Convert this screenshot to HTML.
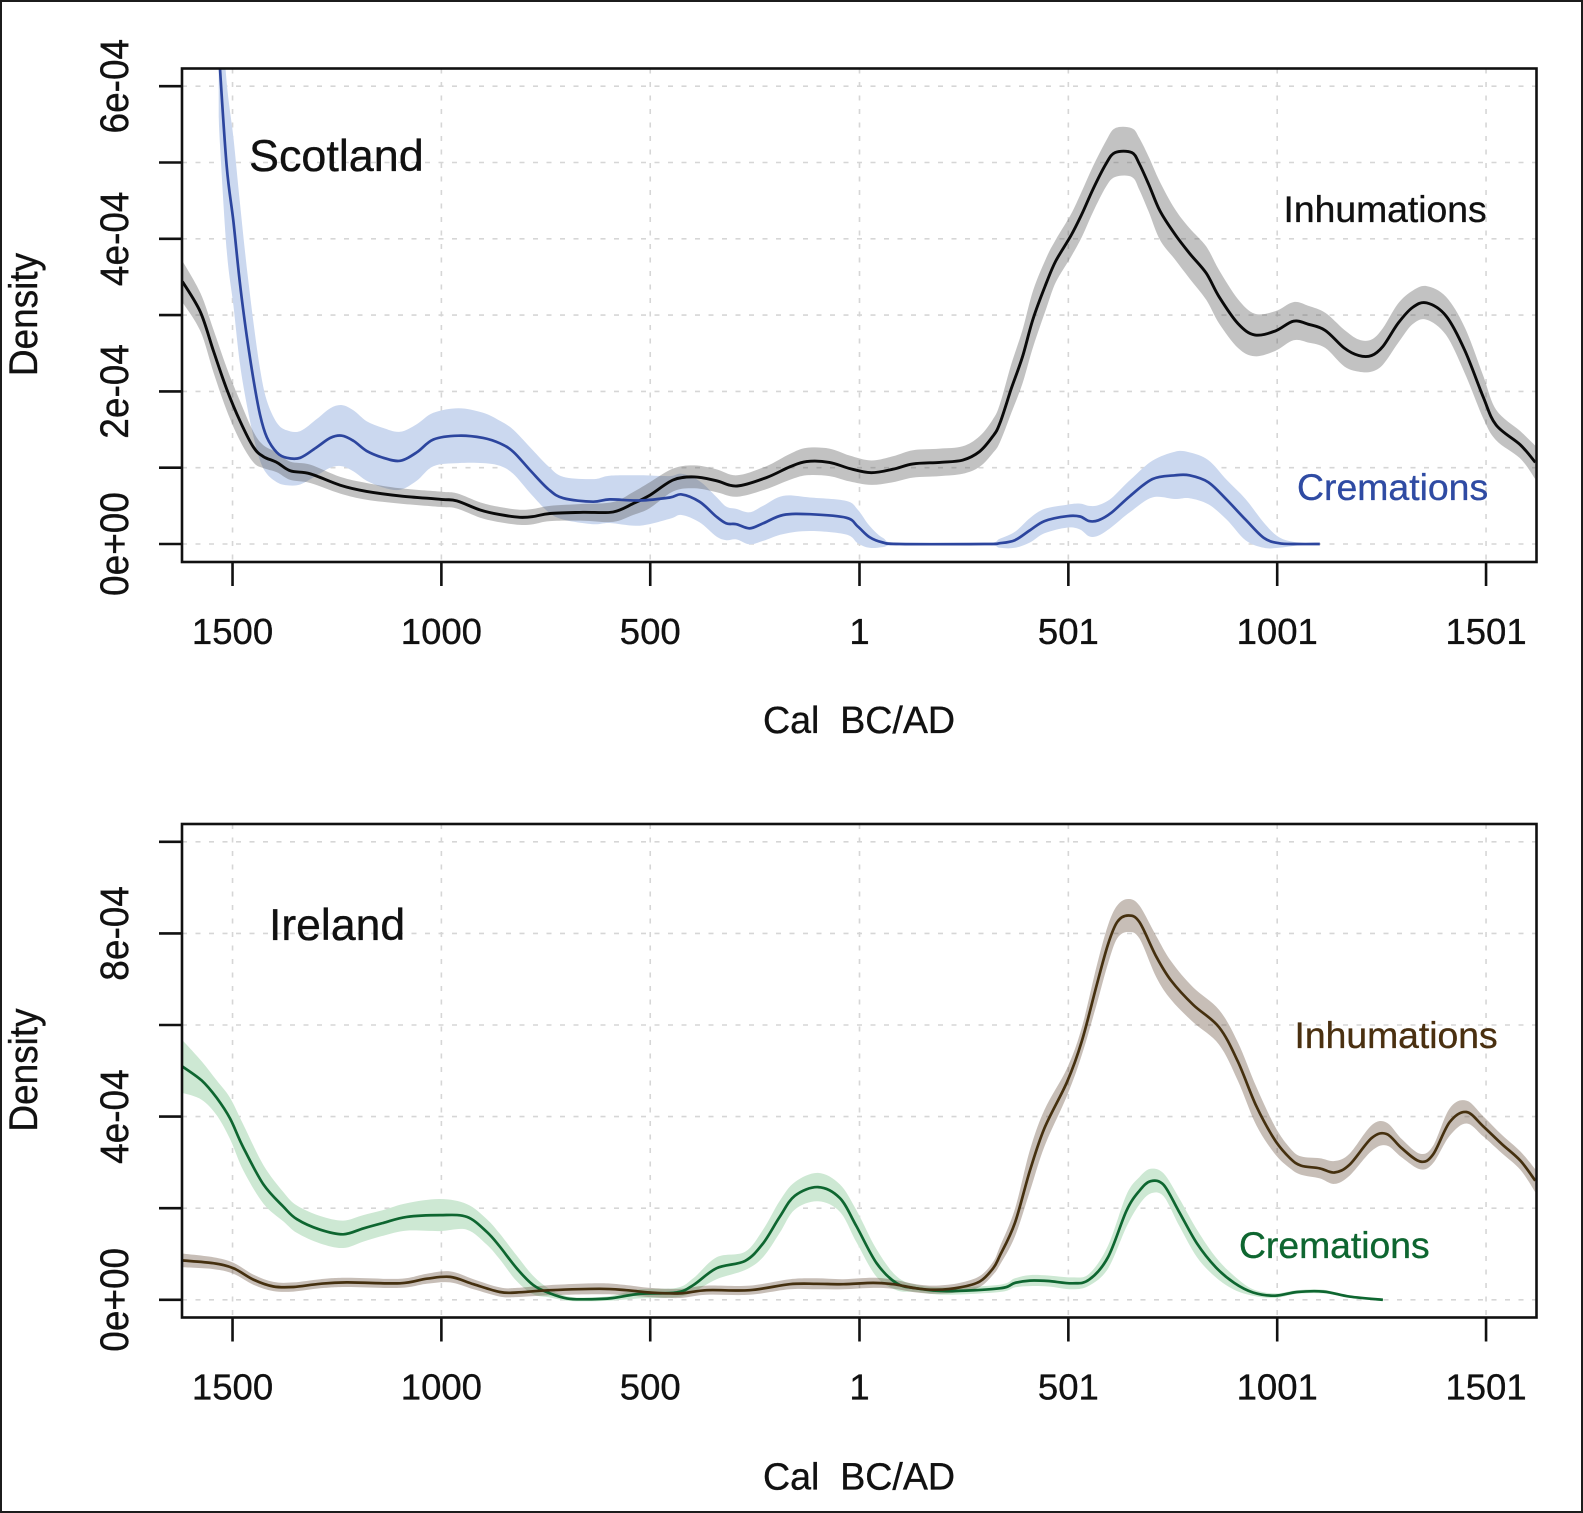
<!DOCTYPE html>
<html lang="en">
<head>
<meta charset="utf-8">
<title>Density of inhumations and cremations in Scotland and Ireland</title>
<style>
html,body{margin:0;padding:0;background:#fff;}
svg{display:block;}
text{font-family:"Liberation Sans",Arial,sans-serif;}
</style>
</head>
<body>
<svg id="chart" xmlns="http://www.w3.org/2000/svg" width="1583" height="1513" viewBox="0 0 1583 1513">
  <rect x="0" y="0" width="1583" height="1513" fill="#fff"/>
  <rect x="1" y="1" width="1581" height="1511" fill="none" stroke="#1c1c1c" stroke-width="2"/>
  <defs>
    <clipPath id="clip-scotland"><rect x="182" y="68.5" width="1354.5" height="493.5"/></clipPath>
    <clipPath id="clip-ireland"><rect x="182" y="824" width="1354.5" height="493.5"/></clipPath>
  </defs>
</svg>
<script>
// Shared x axis
const xTickValues = [-1500, -1000, -500, 1, 501, 1001, 1501];
const xTickLabels = ["1500", "1000", "500", "1", "501", "1001", "1501"];

// Scotland y axis (density, units of 1e-4)
const scotlandYTicks = [0, 1, 2, 3, 4, 5, 6];
const scotlandYLabelValues = [0, 2, 4, 6];
const scotlandYLabels = ["0e+00", "2e-04", "4e-04", "6e-04"];

// Ireland y axis (density, units of 1e-4)
const irelandYTicks = [0, 2, 4, 6, 8, 10];
const irelandYLabelValues = [0, 4, 8];
const irelandYLabels = ["0e+00", "4e-04", "8e-04"];

// Scotland inhumations
const scotInhYears = [-1620,-1577,-1545,-1514,-1482,-1450,-1426,-1394,-1362,-1314,-1242,-1179,-1099,-1000,-963,-907,-860,-812,-780,-740,-661,-589,-541,-501,-445,-394,-342,-292,-222,-166,-126,-71,-23,29,81,129,193,248,288,320,337,364,391,417,449,471,507,533,560,591,613,653,671,693,720,756,791,831,862,907,947,996,1040,1076,1116,1161,1196,1227,1254,1290,1325,1359,1405,1450,1494,1525,1583,1619];
const scotInhValues = [3.44,3.04,2.52,2.03,1.61,1.27,1.145,1.07,0.96,0.92,0.77,0.69,0.63,0.585,0.565,0.445,0.385,0.35,0.36,0.40,0.415,0.42,0.53,0.64,0.84,0.88,0.83,0.76,0.87,1.01,1.08,1.07,0.99,0.935,0.98,1.05,1.07,1.10,1.21,1.41,1.58,2.03,2.45,2.96,3.43,3.71,4.04,4.32,4.65,4.98,5.13,5.13,4.98,4.72,4.37,4.06,3.81,3.55,3.24,2.89,2.74,2.79,2.92,2.88,2.80,2.57,2.47,2.47,2.59,2.89,3.10,3.16,2.99,2.54,1.93,1.56,1.30,1.07];
const scotInhBand = [0.27,0.25,0.28,0.28,0.26,0.2,0.15,0.13,0.12,0.12,0.11,0.11,0.1,0.1,0.1,0.1,0.1,0.1,0.1,0.1,0.11,0.13,0.15,0.17,0.15,0.15,0.15,0.14,0.15,0.17,0.18,0.18,0.17,0.16,0.17,0.18,0.18,0.18,0.2,0.22,0.25,0.32,0.35,0.37,0.33,0.28,0.28,0.3,0.3,0.3,0.32,0.32,0.34,0.36,0.38,0.33,0.33,0.35,0.35,0.32,0.28,0.26,0.25,0.24,0.23,0.24,0.21,0.21,0.24,0.26,0.22,0.22,0.25,0.3,0.28,0.2,0.18,0.22];

// Scotland cremations
const scotCreYears = [-1533,-1530,-1514,-1498,-1482,-1466,-1450,-1434,-1418,-1394,-1370,-1338,-1298,-1266,-1238,-1210,-1179,-1139,-1099,-1059,-1019,-959,-900,-860,-828,-788,-744,-708,-637,-597,-525,-453,-425,-382,-342,-318,-294,-262,-230,-182,-118,-31,-3,25,57,97,300,337,373,409,444,498,529,551,573,604,649,702,756,791,836,880,925,969,1005,1049,1103];
const scotCreValues = [6.6,6.23,4.95,4.23,3.40,2.73,2.16,1.69,1.40,1.20,1.13,1.13,1.27,1.39,1.42,1.35,1.22,1.13,1.09,1.20,1.37,1.42,1.39,1.32,1.21,0.97,0.72,0.60,0.555,0.585,0.57,0.61,0.65,0.555,0.36,0.27,0.26,0.205,0.27,0.38,0.39,0.345,0.23,0.09,0.02,0,0,0.01,0.05,0.18,0.30,0.365,0.36,0.30,0.31,0.41,0.63,0.85,0.90,0.90,0.81,0.58,0.32,0.08,0.01,0,0];
const scotCreBand = [1.0,1.0,1.1,1.1,1.05,0.9,0.75,0.6,0.48,0.39,0.36,0.35,0.37,0.39,0.40,0.40,0.39,0.39,0.38,0.37,0.35,0.36,0.33,0.295,0.29,0.3,0.3,0.28,0.295,0.31,0.33,0.28,0.27,0.27,0.26,0.22,0.2,0.21,0.23,0.25,0.22,0.22,0.22,0.15,0.06,0.01,0.01,0.06,0.11,0.16,0.16,0.15,0.17,0.2,0.2,0.19,0.21,0.24,0.31,0.30,0.29,0.26,0.27,0.2,0.08,0.02,0];

// Ireland inhumations
const ireInhYears = [-1621,-1546,-1498,-1450,-1402,-1354,-1290,-1227,-1099,-1035,-979,-923,-860,-820,-740,-621,-557,-501,-429,-365,-262,-166,-102,-38,34,82,137,185,241,289,321,337,373,409,444,498,533,569,596,618,644,671,711,747,800,862,907,951,996,1032,1058,1103,1138,1174,1227,1263,1299,1343,1374,1414,1454,1494,1539,1583,1619];
const ireInhValues = [0.86,0.80,0.69,0.44,0.29,0.28,0.35,0.38,0.36,0.46,0.50,0.34,0.17,0.16,0.21,0.24,0.21,0.16,0.14,0.21,0.21,0.34,0.35,0.34,0.37,0.34,0.25,0.22,0.27,0.40,0.69,0.96,1.68,2.82,3.75,4.76,5.64,6.88,7.76,8.25,8.39,8.25,7.50,6.97,6.44,5.95,5.20,4.23,3.48,3.09,2.93,2.87,2.78,2.95,3.53,3.62,3.31,3.02,3.17,3.88,4.10,3.79,3.40,3.04,2.60];
const ireInhBand = [0.15,0.13,0.12,0.11,0.1,0.1,0.1,0.1,0.1,0.11,0.12,0.11,0.1,0.1,0.11,0.12,0.11,0.1,0.1,0.1,0.1,0.11,0.12,0.11,0.11,0.1,0.09,0.09,0.1,0.12,0.14,0.2,0.3,0.45,0.4,0.3,0.3,0.42,0.42,0.36,0.36,0.36,0.45,0.42,0.38,0.38,0.42,0.42,0.3,0.22,0.2,0.22,0.25,0.24,0.28,0.25,0.2,0.17,0.19,0.3,0.25,0.22,0.2,0.2,0.25];

// Ireland cremations
const ireCreYears = [-1621,-1574,-1538,-1506,-1474,-1426,-1378,-1346,-1290,-1235,-1187,-1139,-1083,-1003,-939,-891,-860,-820,-780,-740,-700,-660,-597,-525,-437,-397,-341,-273,-230,-190,-154,-98,-46,-6,42,90,137,209,337,373,409,453,511,551,596,640,671,698,729,765,809,854,898,943,996,1049,1112,1174,1254];
const ireCreValues = [5.10,4.79,4.41,3.96,3.32,2.52,2.03,1.76,1.53,1.43,1.56,1.68,1.81,1.85,1.81,1.48,1.16,0.69,0.32,0.14,0.03,0.01,0.03,0.13,0.16,0.32,0.69,0.85,1.23,1.81,2.27,2.46,2.22,1.60,0.80,0.36,0.25,0.19,0.25,0.37,0.42,0.41,0.36,0.44,0.93,1.94,2.38,2.59,2.51,1.94,1.23,0.71,0.37,0.16,0.09,0.17,0.18,0.07,0];
const ireCreBand = [0.58,0.42,0.38,0.45,0.5,0.42,0.32,0.3,0.3,0.3,0.29,0.28,0.3,0.35,0.28,0.28,0.28,0.28,0.2,0.09,0.05,0.04,0.05,0.1,0.1,0.15,0.24,0.2,0.3,0.35,0.3,0.31,0.3,0.35,0.3,0.15,0.08,0.08,0.08,0.1,0.12,0.12,0.13,0.13,0.25,0.35,0.3,0.27,0.25,0.3,0.3,0.22,0.15,0.07,0.05,0.04,0.04,0.02,0];

const svgNS = "http://www.w3.org/2000/svg";
const chart = document.getElementById("chart");

// Axis functions
function xScale(year) { return 859.5 + (year - 1) * 0.4177; }
function scotlandY(v) { return 544 - v * 76.3; }
function irelandY(v) { return 1299.8 - v * 45.8; }

function smoothPath(points, move) {
  let d = (move ? "M" : "L") + points[0][0].toFixed(1) + " " + points[0][1].toFixed(1);
  for (let i = 0; i < points.length - 1; i++) {
    const p0 = points[Math.max(i - 1, 0)];
    const p1 = points[i];
    const p2 = points[i + 1];
    const p3 = points[Math.min(i + 2, points.length - 1)];
    const c1x = p1[0] + (p2[0] - p0[0]) / 6;
    const c1y = p1[1] + (p2[1] - p0[1]) / 6;
    const c2x = p2[0] - (p3[0] - p1[0]) / 6;
    const c2y = p2[1] - (p3[1] - p1[1]) / 6;
    d += "C" + c1x.toFixed(1) + " " + c1y.toFixed(1) + " " + c2x.toFixed(1) + " " + c2y.toFixed(1) + " " + p2[0].toFixed(1) + " " + p2[1].toFixed(1);
  }
  return d;
}

function drawText(parent, str, x, y, size, fill, anchor, rotate) {
  const t = document.createElementNS(svgNS, "text");
  t.setAttribute("x", x);
  t.setAttribute("y", y);
  t.setAttribute("font-size", size);
  t.setAttribute("fill", fill);
  t.setAttribute("stroke", fill);
  t.setAttribute("stroke-width", 0.35);
  t.setAttribute("text-anchor", anchor);
  if (rotate) t.setAttribute("transform", "translate(" + x + " " + y + ") rotate(-90) scale(1 1.07) translate(" + (-x) + " " + (-y) + ")");
  t.textContent = str;
  parent.appendChild(t);
  return t;
}

function drawLine(parent, x1, y1, x2, y2, stroke, width, dash) {
  const l = document.createElementNS(svgNS, "line");
  l.setAttribute("x1", x1);
  l.setAttribute("y1", y1);
  l.setAttribute("x2", x2);
  l.setAttribute("y2", y2);
  l.setAttribute("stroke", stroke);
  l.setAttribute("stroke-width", width);
  if (dash) l.setAttribute("stroke-dasharray", dash);
  parent.appendChild(l);
  return l;
}

function drawBand(parent, years, values, band, yFn, fill) {
  const upper = years.map((yr, i) => [xScale(yr), yFn(values[i] + band[i])]);
  const lower = years.map((yr, i) => [xScale(yr), yFn(Math.max(values[i] - band[i], -0.05))]).reverse();
  const p = document.createElementNS(svgNS, "path");
  p.setAttribute("d", smoothPath(upper, true) + smoothPath(lower, false) + "Z");
  p.setAttribute("fill", fill);
  parent.appendChild(p);
  return p;
}

function drawCurve(parent, years, values, yFn, stroke, width) {
  const pts = years.map((yr, i) => [xScale(yr), yFn(values[i])]);
  const p = document.createElementNS(svgNS, "path");
  p.setAttribute("d", smoothPath(pts, true));
  p.setAttribute("fill", "none");
  p.setAttribute("stroke", stroke);
  p.setAttribute("stroke-width", width);
  p.setAttribute("stroke-linejoin", "round");
  parent.appendChild(p);
  return p;
}

function drawAxes(group, top, bottom, yFn, yTicks, yLabelValues, yLabels) {
  const left = 182, right = 1536.5;
  for (const v of yTicks) {
    const h = drawLine(group, left, yFn(v), right, yFn(v), "#d6d6d6", 1.6, "5 8.5");
    
    
    const t = drawLine(group, 159, yFn(v), left, yFn(v), "#111", 2.6);
    
    
  }
  xTickValues.forEach((yr, i) => {
    const g = drawLine(group, xScale(yr), top, xScale(yr), bottom, "#d6d6d6", 1.6, "5 8.5");
    
    
    const t = drawLine(group, xScale(yr), bottom, xScale(yr), bottom + 24, "#111", 2.6);
    
    
    const lab = drawText(group, xTickLabels[i], xScale(yr), bottom + 82, 36.5, "#111", "middle");
    
    
  });
  yLabelValues.forEach((v, i) => {
    const lab = drawText(group, yLabels[i], 128, yFn(v), 37, "#111", "middle", true);
    
    
  });
}

function drawBox(group, top, bottom) {
  const r = document.createElementNS(svgNS, "rect");
  r.setAttribute("x", 182);
  r.setAttribute("y", top);
  r.setAttribute("width", 1354.5);
  r.setAttribute("height", bottom - top);
  r.setAttribute("fill", "none");
  r.setAttribute("stroke", "#111");
  r.setAttribute("stroke-width", 2.6);
  
  
  group.appendChild(r);
}

function clipGroup(parent, id) {
  const g = document.createElementNS(svgNS, "g");
  g.setAttribute("clip-path", "url(#" + id + ")");
  
  
  parent.appendChild(g);
  return g;
}

// ---------- Scotland panel ----------
const scotlandPanel = document.createElementNS(svgNS, "g");


chart.appendChild(scotlandPanel);
drawAxes(scotlandPanel, 68.5, 562, scotlandY, scotlandYTicks, scotlandYLabelValues, scotlandYLabels);
const scotPlot = clipGroup(scotlandPanel, "clip-scotland");

const scotCreBandEl = drawBand(scotPlot, scotCreYears, scotCreValues, scotCreBand, scotlandY, "#cbd8ef");


const scotInhBandEl = drawBand(scotPlot, scotInhYears, scotInhValues, scotInhBand, scotlandY, "rgba(90,90,90,0.37)");


const scotInhLine = drawCurve(scotPlot, scotInhYears, scotInhValues, scotlandY, "#0a0a0a", 2.9);


const scotCreLine = drawCurve(scotPlot, scotCreYears, scotCreValues, scotlandY, "#2c459e", 2.7);


drawBox(scotlandPanel, 68.5, 562);

const scotTitle = drawText(scotlandPanel, "Scotland", 249, 171, 44.9, "#111", "start");


const scotInhLabel = drawText(scotlandPanel, "Inhumations", 1283.5, 222, 37.3, "#111", "start");


const scotCreLabel = drawText(scotlandPanel, "Cremations", 1297, 500, 37.4, "#2f4ba3", "start");


const scotXTitle = drawText(scotlandPanel, "Cal\u00a0\u00a0BC/AD", 859, 733, 37.6, "#111", "middle");


const scotYTitle = drawText(scotlandPanel, "Density", 37, 314.5, 37, "#111", "middle", true);



// ---------- Ireland panel ----------
const irelandPanel = document.createElementNS(svgNS, "g");


chart.appendChild(irelandPanel);
drawAxes(irelandPanel, 824, 1317.5, irelandY, irelandYTicks, irelandYLabelValues, irelandYLabels);
const irePlot = clipGroup(irelandPanel, "clip-ireland");

const ireCreBandEl = drawBand(irePlot, ireCreYears, ireCreValues, ireCreBand, irelandY, "#cde8d3");


const ireInhBandEl = drawBand(irePlot, ireInhYears, ireInhValues, ireInhBand, irelandY, "rgba(100,75,55,0.36)");


const ireCreLine = drawCurve(irePlot, ireCreYears, ireCreValues, irelandY, "#0e6630", 2.7);


const ireInhLine = drawCurve(irePlot, ireInhYears, ireInhValues, irelandY, "#45300f", 2.7);


drawBox(irelandPanel, 824, 1317.5);

const ireTitle = drawText(irelandPanel, "Ireland", 269, 940, 44.5, "#111", "start");


const ireInhLabel = drawText(irelandPanel, "Inhumations", 1294.5, 1048, 37.3, "#4a3010", "start");


const ireCreLabel = drawText(irelandPanel, "Cremations", 1239, 1258, 37.3, "#0e6630", "start");


const ireXTitle = drawText(irelandPanel, "Cal\u00a0\u00a0BC/AD", 859, 1489.5, 37.6, "#111", "middle");


const ireYTitle = drawText(irelandPanel, "Density", 37, 1070, 37, "#111", "middle", true);


</script>
</body>
</html>
